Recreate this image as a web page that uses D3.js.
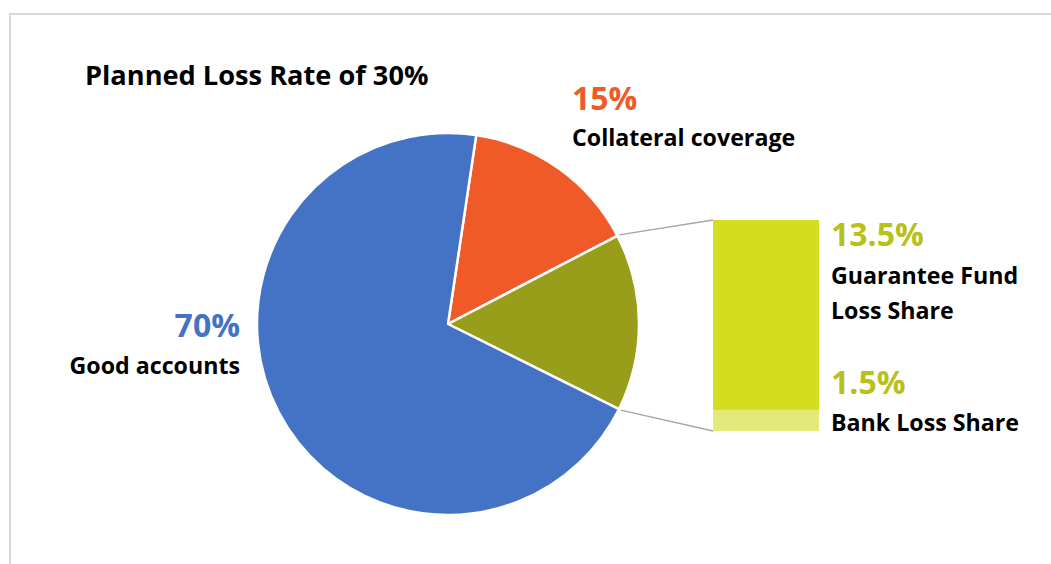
<!DOCTYPE html>
<html>
<head>
<meta charset="utf-8">
<script src="https://cdn.jsdelivr.net/npm/d3@7"></script>
<style>
  body { margin: 0; background: #fff; }
  svg text { font-family: "Open Sans", Lato, sans-serif; font-weight: bold; }
</style>
</head>
<body>
<svg id="chart" width="1051" height="564"></svg>
<script>
const title = "Planned Loss Rate of 30%";
const pieLabels = ["Collateral coverage", "Loss", "Good accounts"];
const pieValues = [15, 15, 70];
const pieColors = ["#f05a28", "#989d1a", "#4472c4"];
const barLabels = ["Guarantee Fund Loss Share", "Bank Loss Share"];
const barValues = [13.5, 1.5];
const barColors = ["#d5dd21", "#e3e97a"];

const svg = d3.select("#chart");
const width = 1051, height = 564;

// frame
svg.append("path")
    .attr("d", `M10,${height} L10,14 L${width},14`)
    .attr("fill", "none")
    .attr("stroke", "#d9d9d9")
    .attr("stroke-width", 2);

svg.append("text")
    .attr("x", 85)
    .attr("y", 85)
    .attr("font-size", 27.2)
    .attr("fill", "#000")
    .text(title);

const cx = 448, cy = 324, r = 191;
const startAngle = 8.5 * Math.PI / 180;

const pie = d3.pie().sort(null)
    .startAngle(startAngle)
    .endAngle(startAngle + 2 * Math.PI);
const arcs = pie(pieValues);
const arc = d3.arc().innerRadius(0).outerRadius(r);

const g = svg.append("g").attr("transform", `translate(${cx},${cy})`);
g.selectAll("path")
    .data(arcs)
    .enter()
    .append("path")
    .attr("d", arc)
    .attr("fill", (d, i) => pieColors[i])
    .attr("stroke", "#fff")
    .attr("stroke-width", 2.5)
    .attr("stroke-linejoin", "round");

// bar of pie
const lossArc = arcs[1];
const y = d3.scaleLinear()
    .domain([0, d3.sum(barValues)])
    .range([220, 431]);
const barX = 713, barW = 106;

let acc = 0;
const stack = barValues.map(v => { const s = { y0: acc, y1: acc + v }; acc += v; return s; });

svg.append("g").selectAll("rect")
    .data(stack)
    .enter()
    .append("rect")
    .attr("x", barX)
    .attr("y", d => y(d.y0))
    .attr("width", barW)
    .attr("height", d => y(d.y1) - y(d.y0))
    .attr("fill", (d, i) => barColors[i]);

const pt = a => [cx + (r + 2) * Math.sin(a), cy - (r + 2) * Math.cos(a)];
const p0 = pt(lossArc.startAngle), p1 = pt(lossArc.endAngle);
svg.append("line")
    .attr("x1", p0[0]).attr("y1", p0[1])
    .attr("x2", barX).attr("y2", y(0))
    .attr("stroke", "#a6a6a6").attr("stroke-width", 1.5);
svg.append("line")
    .attr("x1", p1[0]).attr("y1", p1[1])
    .attr("x2", barX).attr("y2", y(d3.sum(barValues)))
    .attr("stroke", "#a6a6a6").attr("stroke-width", 1.5);

// labels
function label(x, yy, anchor, value, color, lines, gap) {
    const t = svg.append("g");
    t.append("text")
        .attr("x", x).attr("y", yy)
        .attr("text-anchor", anchor)
        .attr("font-size", 32)
        .attr("fill", color)
        .text(value + "%");
    lines.forEach((l, i) => {
        t.append("text")
            .attr("x", x).attr("y", yy + gap + i * 35)
            .attr("text-anchor", anchor)
            .attr("font-size", 23.2)
            .attr("fill", "#000")
            .text(l);
    });
}

label(572, 110, "start", pieValues[0], pieColors[0], [pieLabels[0]], 36);
label(240, 337, "end", pieValues[2], pieColors[2], [pieLabels[2]], 37);
label(831, 246, "start", barValues[0], "#b8c01a", ["Guarantee Fund", "Loss Share"], 38);
label(831, 394, "start", barValues[1], "#b8c01a", [barLabels[1]], 37);
</script>
</body>
</html>
